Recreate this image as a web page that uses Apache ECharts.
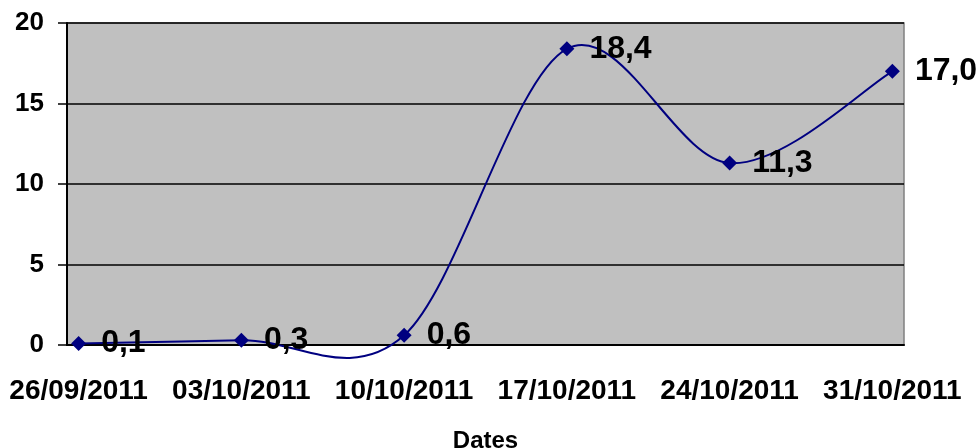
<!DOCTYPE html>
<html>
<head>
<meta charset="utf-8">
<script src="https://cdn.jsdelivr.net/npm/echarts@6/dist/echarts.min.js"></script>
<style>
  html, body { margin: 0; padding: 0; background: #fff; }
  #chart { width: 978px; height: 448px; }
</style>
</head>
<body>
<div id="chart"></div>
<script>
// one category per day, 26/09/2011 .. 31/10/2011
const firstDay = new Date(2011, 8, 26)
const dayCount = 36
const days = []
for (let i = 0; i < dayCount; i++) {
  const d = new Date(firstDay.getFullYear(), firstDay.getMonth(), firstDay.getDate() + i)
  days.push(String(d.getDate()).padStart(2, '0') + '/' + String(d.getMonth() + 1).padStart(2, '0') + '/' + d.getFullYear())
}

const pointDates = ['26/09/2011', '03/10/2011', '10/10/2011', '17/10/2011', '24/10/2011', '31/10/2011']
const values = [0.1, 0.3, 0.6, 18.4, 11.3, 17.0]
const yTicks = [0, 5, 10, 15, 20]

const points = pointDates.map((d, i) => [days.indexOf(d), values[i]])

const font = "'Liberation Sans', Arial, sans-serif"
const navy = '#000080'
const weekly = (index) => index % 7 === 0

// Excel-style smoothed line: one cubic segment from each point to the next,
// control points taken from the neighbours (catmull-rom, tension 1/6)
function renderSegment(params, api) {
  const i = params.dataIndex
  const n = points.length
  if (i >= n - 1) return null
  const at = (k) => api.coord(points[Math.max(0, Math.min(n - 1, k))])
  const p0 = at(i - 1), p1 = at(i), p2 = at(i + 1), p3 = at(i + 2)
  return {
    type: 'bezierCurve',
    shape: {
      x1: p1[0], y1: p1[1],
      x2: p2[0], y2: p2[1],
      cpx1: p1[0] + (p2[0] - p0[0]) / 6,
      cpy1: p1[1] + (p2[1] - p0[1]) / 6,
      cpx2: p2[0] - (p3[0] - p1[0]) / 6,
      cpy2: p2[1] - (p3[1] - p1[1]) / 6
    },
    style: { stroke: navy, lineWidth: 2, fill: null }
  }
}

const chart = echarts.init(document.getElementById('chart'))
chart.setOption({
  animation: false,
  grid: {
    left: 67, right: 74, top: 23, bottom: 103,
    outerBoundsMode: 'none',
    containLabel: false,
    show: true,
    backgroundColor: '#c0c0c0',
    borderColor: '#808080',
    borderWidth: 1.5
  },
  xAxis: {
    type: 'category',
    data: days,
    boundaryGap: true,
    name: 'Dates',
    nameLocation: 'middle',
    nameGap: 84,
    nameTextStyle: { fontFamily: font, fontWeight: 'bold', fontSize: 24, color: '#000' },
    axisLine: { lineStyle: { color: '#000', width: 2 } },
    axisTick: { interval: weekly, length: 9, lineStyle: { color: '#000', width: 1.5 } },
    axisLabel: { interval: weekly, margin: 32, fontFamily: font, fontWeight: 'bold', fontSize: 28, color: '#000' },
    splitLine: { show: false }
  },
  yAxis: {
    type: 'value',
    min: yTicks[0],
    max: yTicks[yTicks.length - 1],
    interval: 5,
    axisLine: { show: true, lineStyle: { color: '#000', width: 2 } },
    axisTick: { show: true, length: 9, lineStyle: { color: '#000', width: 1.5 } },
    axisLabel: { margin: 23, fontFamily: font, fontWeight: 'bold', fontSize: 26, color: '#000' },
    splitLine: { lineStyle: { color: '#000', width: 1.5 } }
  },
  series: [{
    type: 'custom',
    data: points,
    encode: { x: 0, y: 1 },
    renderItem: renderSegment,
    silent: true,
    z: 2
  }, {
    type: 'scatter',
    data: points,
    symbol: 'diamond',
    symbolSize: 15,
    itemStyle: { color: navy, opacity: 1 },
    z: 3,
    label: {
      show: true,
      position: 'right',
      distance: 15,
      fontFamily: font,
      fontWeight: 'bold',
      fontSize: 32,
      color: '#000',
      formatter: (p) => p.value[1].toFixed(1).replace('.', ',')
    }
  }]
})
</script>
</body>
</html>
